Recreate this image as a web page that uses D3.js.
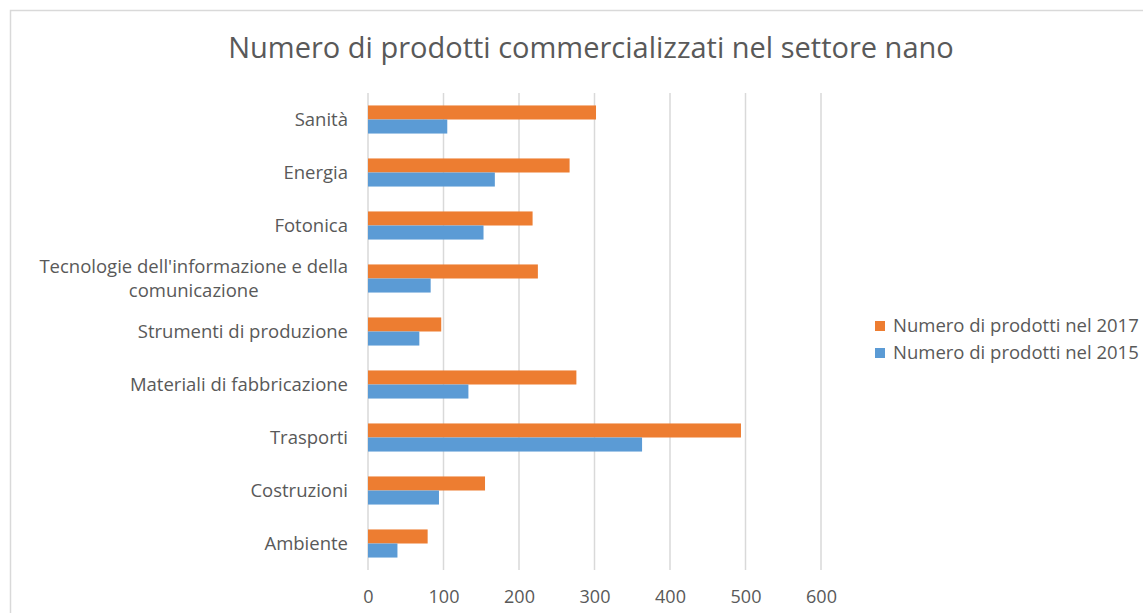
<!DOCTYPE html>
<html>
<head>
<meta charset="utf-8">
<script src="https://cdn.jsdelivr.net/npm/d3@7"></script>
<style>
  body { margin: 0; background: #fff; }
  text { font-family: "Open Sans", sans-serif; fill: #595959; }
</style>
</head>
<body>
<div class="chart"></div>
<script>
// Paramètres
const width = 1143;
const height = 613;
const margin = { top: 93, right: 322, bottom: 43, left: 368 };

// Données
const categories = [
  'Sanità',
  'Energia',
  'Fotonica',
  "Tecnologie dell'informazione e della|comunicazione",
  'Strumenti di produzione',
  'Materiali di fabbricazione',
  'Trasporti',
  'Costruzioni',
  'Ambiente'
];
const values2017 = [302, 267, 218, 225, 97, 276, 494, 155, 79];
const values2015 = [105, 168, 153, 83, 68, 133, 363, 94, 39];
const seriesNames = ['Numero di prodotti nel 2017', 'Numero di prodotti nel 2015'];
const seriesColors = ['#ed7d31', '#5b9bd5'];
const xTicks = [0, 100, 200, 300, 400, 500, 600];

const svg = d3.select('.chart')
  .append('svg')
  .attr('width', width)
  .attr('height', height);

// cadre
svg.append('rect')
  .attr('x', 10.5)
  .attr('y', 10.5)
  .attr('width', width + 20)
  .attr('height', height + 20)
  .attr('fill', 'none')
  .attr('stroke', '#d9d9d9')
  .attr('stroke-width', 1.5);

// titre
svg.append('text')
  .attr('x', 591)
  .attr('y', 58)
  .attr('text-anchor', 'middle')
  .style('font-size', '29px')
  .text('Numero di prodotti commercializzati nel settore nano');

// Echelles
const x = d3.scaleLinear()
  .domain([0, 600])
  .range([margin.left, width - margin.right]);

const y = d3.scaleBand()
  .domain(categories)
  .range([margin.top, height - margin.bottom])
  .paddingInner(0.47)
  .paddingOuter(0.235);

const ySub = d3.scaleBand()
  .domain([0, 1])
  .range([0, y.bandwidth()]);

// grille
svg.append('g')
  .selectAll('line')
  .data(xTicks)
  .join('line')
    .attr('x1', d => x(d))
    .attr('x2', d => x(d))
    .attr('y1', margin.top)
    .attr('y2', height - margin.bottom)
    .attr('stroke', '#d9d9d9')
    .attr('stroke-width', 1.5);

// barres
const rows = categories.map((c, i) => ({ cat: c, vals: [values2017[i], values2015[i]] }));

svg.append('g')
  .selectAll('g')
  .data(rows)
  .join('g')
    .attr('transform', d => `translate(0, ${y(d.cat)})`)
  .selectAll('rect')
  .data(d => d.vals.map((v, s) => ({ v, s })))
  .join('rect')
    .attr('x', x(0))
    .attr('y', d => ySub(d.s))
    .attr('width', d => x(d.v) - x(0))
    .attr('height', ySub.bandwidth())
    .attr('fill', d => seriesColors[d.s]);

// axe horizontal
svg.append('g')
  .attr('transform', `translate(0, ${height - margin.bottom})`)
  .call(d3.axisBottom(x).tickValues(xTicks).tickSize(0).tickPadding(20))
  .call(g => g.select('.domain').remove())
  .call(g => g.selectAll('text').style('font-size', '18px').attr('fill', '#595959'));

// libellés des catégories
const labels = svg.append('g');
categories.forEach(c => {
  const lines = c.split('|');
  const cy = y(c) + y.bandwidth() / 2;
  const lh = 23.5;
  const t = labels.append('text')
    .style('font-size', '18.5px')
    .attr('text-anchor', 'middle');
  lines.forEach((l, i) => {
    t.append('tspan')
      .attr('x', 0)
      .attr('y', cy + (i - (lines.length - 1) / 2) * lh)
      .attr('dy', '0.35em')
      .text(l);
  });
  // aligner à droite le bloc, lignes centrées
  const w = t.node().getBBox().width;
  t.selectAll('tspan').attr('x', x(0) - 20 - w / 2);
});

// légende
const legend = svg.append('g')
  .selectAll('g')
  .data(seriesNames)
  .join('g')
    .attr('transform', (d, i) => `translate(875, ${326 + i * 27})`);

legend.append('rect')
  .attr('x', 0)
  .attr('y', -5)
  .attr('width', 10)
  .attr('height', 10)
  .attr('fill', (d, i) => seriesColors[i]);

legend.append('text')
  .attr('x', 18)
  .attr('dy', '0.35em')
  .style('font-size', '18.5px')
  .text(d => d);
</script>
</body>
</html>
